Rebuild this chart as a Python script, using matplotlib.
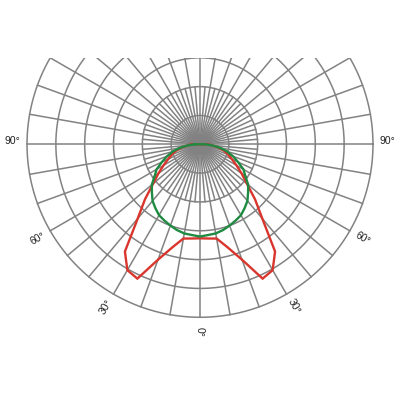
import numpy as np
import matplotlib
matplotlib.use('Agg')
import matplotlib.pyplot as plt
from matplotlib.patches import Rectangle

plt.rcParams['font.family'] = ['Liberation Sans', 'DejaVu Sans']

# gamma angles (deg), one half of the plane; mirrored for the other half
angles = [0, 5, 10, 15, 20, 25, 30, 35, 40, 45, 50, 55, 60, 65, 70, 75, 80, 85, 90]
# luminous intensity, ring step = 50
red_vals = [163, 164, 166, 185, 213, 257, 252, 227, 168, 135, 106, 88, 73, 61, 52, 43, 33, 21, 14]
green_vals = [160, 158, 157, 154, 150, 146, 142, 135, 128, 118, 109, 96, 87, 73, 61, 49, 36, 21, 9]
ring_step = 50
n_rings = 6
label_angles = [-90, -60, -30, 0, 30, 60, 90]
label_texts = ['90°', '60°', '30°', '0°', '30°', '60°', '90°']

GRID = '#828282'
RED = '#d8352c'
GREEN = '#1f8a42'


def to_xy(theta_deg, r):
    t = np.radians(theta_deg)
    return r * np.sin(t), -r * np.cos(t)


def mirror(ang, vals):
    ang = np.array(ang, dtype=float)
    vals = np.array(vals, dtype=float) / ring_step
    full_a = np.concatenate([-ang[::-1], ang[1:]])
    full_v = np.concatenate([vals[::-1], vals[1:]])
    # close the curve across the top
    full_a = np.append(full_a, full_a[0])
    full_v = np.append(full_v, full_v[0])
    return full_a, full_v


fig = plt.figure(figsize=(4, 4), dpi=100)
ax = fig.add_axes([0, 0, 1, 1])
s = 28.83  # px per ring
ax.set_xlim(-200 / s, 200 / s)
ax.set_ylim(-255.7 / s, 144.3 / s)
ax.axis('off')

clip = Rectangle((-10, -10), 20, 10 + n_rings / 2, transform=ax.transData)

# rings
tt = np.linspace(0, 2 * np.pi, 400)
for k in range(1, n_rings + 1):
    ln, = ax.plot(k * np.cos(tt), k * np.sin(tt), color=GRID, lw=1.1, zorder=1)
    ln.set_clip_path(clip)

# radial lines: 10 deg to the outer ring, 5 deg inside ring 2
for a in range(0, 360, 5):
    rmax = n_rings if a % 10 == 0 else 2
    x, y = to_xy(a, rmax)
    ln, = ax.plot([0, x], [0, y], color=GRID, lw=1.1, zorder=1)
    ln.set_clip_path(clip)

# curves
for vals, col in [(red_vals, RED), (green_vals, GREEN)]:
    a, v = mirror(angles, vals)
    x, y = to_xy(a, v)
    ax.plot(x, y, color=col, lw=1.7, zorder=3, solid_joinstyle='miter')

# angle labels
for a, txt in zip(label_angles, label_texts):
    x, y = to_xy(a, 6.5)
    if abs(a) == 90:
        rot = 0
        y += 0.1
    elif a < 0:
        rot = -90 - abs(a) + 180
    else:
        rot = -90 + a
    ax.text(x, y, txt, rotation=rot, ha='center', va='center',
            fontsize=7.5, color='#222222', rotation_mode='anchor')

fig.savefig('out.png', dpi=100, facecolor='white')
